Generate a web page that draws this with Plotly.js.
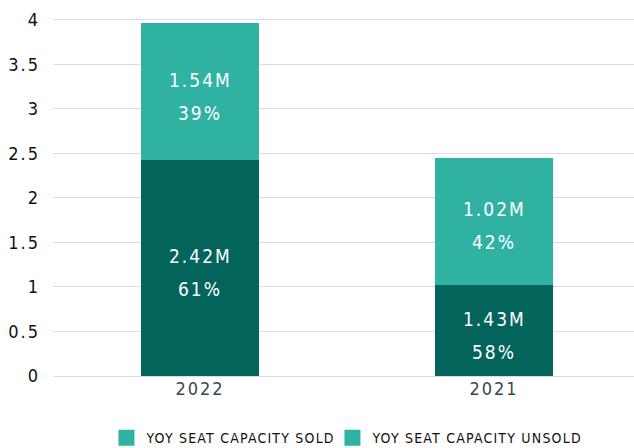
<!DOCTYPE html>
<html>
<head>
<meta charset="utf-8">
<script src="https://cdn.plot.ly/plotly-3.0.1.min.js"></script>
<style>
html,body{margin:0;padding:0;background:#fff;}
#chart{width:634px;height:448px;}
#chart text{letter-spacing:2px; font-stretch:condensed;}
#chart .legend text{letter-spacing:1.2px;}
#chart .legend .scrollbox{clip-path:none !important;}
</style>
</head>
<body>
<div id="chart"></div>
<script>
const categories = ["2022", "2021"];
// segment heights as drawn in the picture (bottom = dark, top = light)
const bottomValues = [2.42, 1.02];
const topValues = [1.54, 1.43];
// data labels as printed on the picture
const bottomLabels = ["2.42M", "1.43M"];
const bottomPct = ["61%", "58%"];
const topLabels = ["1.54M", "1.02M"];
const topPct = ["39%", "42%"];
const yTickVals = [0, 0.5, 1, 1.5, 2, 2.5, 3, 3.5, 4];
const yTickText = ["0", "0.5", "1", "1.5", "2", "2.5", "3", "3.5", "4"];
const legendNames = ["YOY SEAT CAPACITY SOLD", "YOY SEAT CAPACITY UNSOLD"];

const DARK = "#03645b";
const LIGHT = "#30b2a2";
const FONT = "DejaVu Sans Condensed, Liberation Sans Narrow, DejaVu Sans, sans-serif";

const traces = [
  {type: "bar", x: categories, y: bottomValues, marker: {color: DARK}, width: 0.4,
   showlegend: false, hoverinfo: "skip"},
  {type: "bar", x: categories, y: topValues, marker: {color: LIGHT, line: {width: 0}}, width: 0.4,
   showlegend: false, hoverinfo: "skip"},
  {type: "scatter", mode: "markers", x: [null], y: [null], name: legendNames[0],
   marker: {symbol: "square", size: 16, color: LIGHT}},
  {type: "scatter", mode: "markers", x: [null], y: [null], name: legendNames[1],
   marker: {symbol: "square", size: 16, color: LIGHT}}
];

const annotations = [];
const labelFont = {family: FONT, size: 19, color: "#ffffff"};
categories.forEach((c, i) => {
  const segs = [
    {mid: bottomValues[i] / 2, v: bottomLabels[i], p: bottomPct[i]},
    {mid: bottomValues[i] + topValues[i] / 2, v: topLabels[i], p: topPct[i]}
  ];
  segs.forEach(s => {
    annotations.push({x: i, y: s.mid, xref: "x", yref: "y", text: s.v, showarrow: false,
      font: labelFont, yshift: 12});
    annotations.push({x: i, y: s.mid, xref: "x", yref: "y", text: s.p, showarrow: false,
      font: labelFont, yshift: -21});
  });
});

const layout = {
  width: 634, height: 448,
  margin: {l: 53, r: 0, t: 18, b: 72},
  barmode: "stack",
  paper_bgcolor: "#ffffff",
  plot_bgcolor: "#ffffff",
  font: {family: FONT, color: "#111111"},
  xaxis: {
    type: "category", range: [-0.5, 1.476],
    showgrid: false, zeroline: false, showline: false, ticks: "",
    tickfont: {family: FONT, size: 18, color: "#3b4751"}
  },
  yaxis: {
    range: [0, 4.02], tickvals: yTickVals, ticktext: yTickText,
    showgrid: true, gridcolor: "#dcdcdc", gridwidth: 1,
    zeroline: true, zerolinecolor: "#dcdcdc", zerolinewidth: 1,
    showline: false, ticks: "", ticklen: 0, ticklabelstandoff: 12,
    tickfont: {family: FONT, size: 18, color: "#111111"}
  },
  showlegend: true,
  legend: {
    orientation: "h", x: 0.092, xanchor: "left",
    yref: "container", y: 0.022, yanchor: "middle",
    font: {family: FONT, size: 14, color: "#111111"},
    itemsizing: "trace", traceorder: "normal", entrywidth: 181, entrywidthmode: "pixels"
  },
  annotations: annotations
};

Plotly.newPlot("chart", traces, layout, {displayModeBar: false, staticPlot: true});
</script>
</body>
</html>
